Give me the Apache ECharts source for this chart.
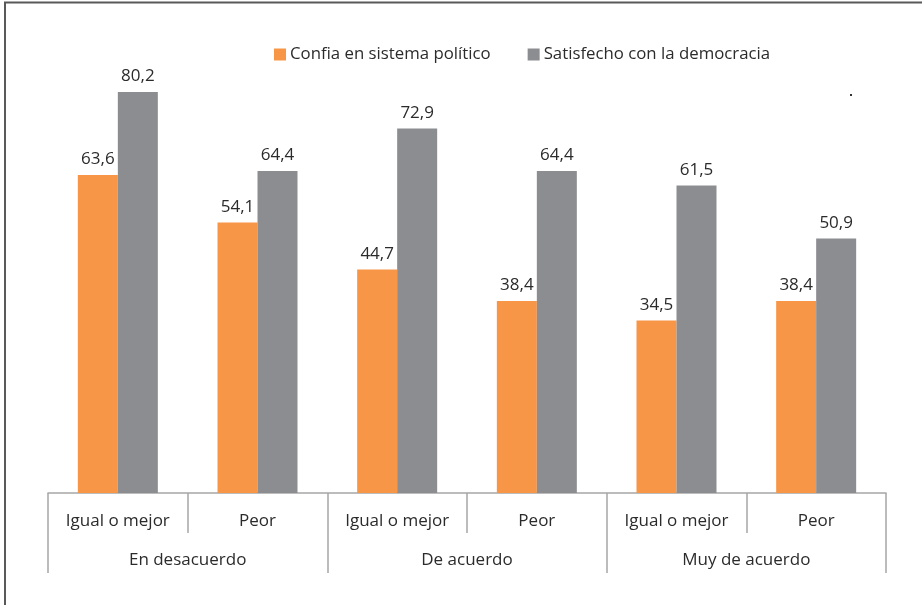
<!DOCTYPE html>
<html>
<head>
<meta charset="utf-8">
<script src="https://cdn.jsdelivr.net/npm/echarts@6/dist/echarts.min.js"></script>
<style>
  html, body { margin: 0; padding: 0; background: #fff; }
  #chart { width: 922px; height: 605px; }
</style>
</head>
<body>
<div id="chart"></div>
<script>
// categorias (nivel 1 y nivel 2)
var subCategories = ['Igual o mejor', 'Peor', 'Igual o mejor', 'Peor', 'Igual o mejor', 'Peor']
var groupCategories = ['En desacuerdo', 'De acuerdo', 'Muy de acuerdo']
// series
var confiaData = [63.6, 54.1, 44.7, 38.4, 34.5, 38.4]
var satisfechoData = [80.2, 64.4, 72.9, 64.4, 61.5, 50.9]

var FONT = "'Open Sans', 'Noto Sans', sans-serif"
var TEXT = '#2b2b2b'
var AXIS = '#a6a6a6'
var FS = 17

var chart = echarts.init(document.getElementById('chart'))

function labelFmt(p) {
  return String(p.value.toFixed(1)).replace('.', ',')
}

chart.setOption({
  animation: false,
  textStyle: { fontFamily: FONT },
  legend: {
    top: 41,
    left: 269,
    itemWidth: 12,
    itemHeight: 12,
    itemGap: 37,
    icon: 'rect',
    textStyle: { fontFamily: FONT, fontSize: 16.8, color: TEXT, padding: [0, 0, 0, -1] },
    data: ['Confia en sistema político', 'Satisfecho con la democracia']
  },
  grid: {
    left: 48,
    right: 36,
    top: 43,
    bottom: 112
  },
  xAxis: [
    {
      type: 'category',
      data: subCategories,
      position: 'bottom',
      axisLine: { show: true, lineStyle: { color: AXIS, width: 1.5 } },
      axisTick: { show: true, length: 40, lineStyle: { color: AXIS, width: 1.5 } },
      axisLabel: { fontFamily: FONT, fontSize: FS, color: TEXT, margin: 20 }
    },
    {
      type: 'category',
      data: groupCategories,
      position: 'bottom',
      offset: 40,
      axisLine: { show: false },
      axisTick: { show: true, length: 40, lineStyle: { color: AXIS, width: 1.5 } },
      axisLabel: { fontFamily: FONT, fontSize: FS, color: TEXT, margin: 19 }
    }
  ],
  yAxis: {
    type: 'value',
    min: 0,
    max: 90,
    show: false,
    splitLine: { show: false }
  },
  series: [
    {
      name: 'Confia en sistema político',
      type: 'bar',
      xAxisIndex: 0,
      data: confiaData,
      barWidth: 40,
      barGap: '0%',
      itemStyle: { color: '#f79646' },
      label: {
        show: true,
        position: 'top',
        distance: 7,
        fontFamily: FONT,
        fontSize: FS,
        color: TEXT,
        formatter: labelFmt
      }
    },
    {
      name: 'Satisfecho con la democracia',
      type: 'bar',
      xAxisIndex: 0,
      data: satisfechoData,
      barWidth: 40,
      itemStyle: { color: '#8c8d91' },
      label: {
        show: true,
        position: 'top',
        distance: 7,
        fontFamily: FONT,
        fontSize: FS,
        color: TEXT,
        formatter: labelFmt
      }
    }
  ],
  graphic: [
    // marco superior e izquierdo
    { type: 'line', shape: { x1: 4, y1: 2.5, x2: 922, y2: 2.5 }, style: { stroke: '#595959', lineWidth: 2 } },
    { type: 'line', shape: { x1: 5, y1: 2, x2: 5, y2: 605 }, style: { stroke: '#595959', lineWidth: 2 } },
    // punto suelto
    { type: 'rect', shape: { x: 850, y: 94, width: 2, height: 2 }, style: { fill: '#333' } }
  ]
})
</script>
</body>
</html>
